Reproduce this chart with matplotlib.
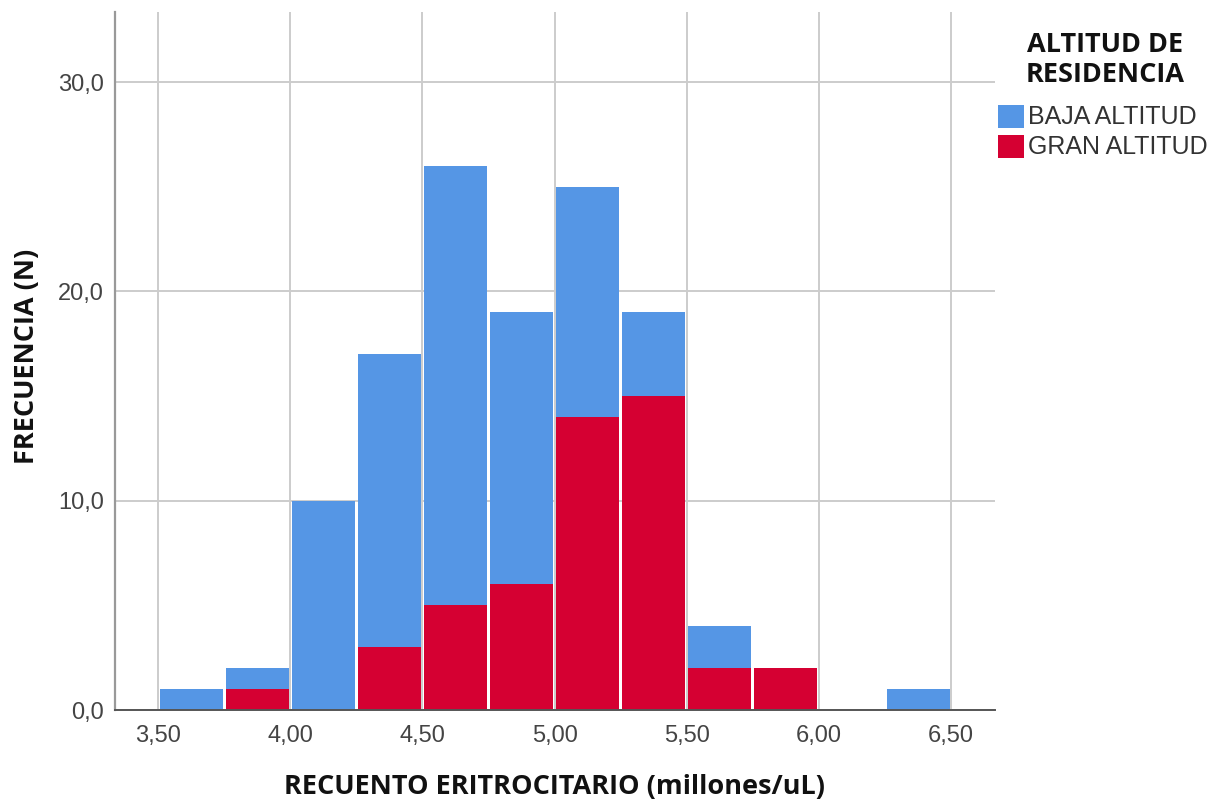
import numpy as np
import matplotlib
matplotlib.use("Agg")
import matplotlib.pyplot as plt
from matplotlib.patches import Rectangle

# Histogram bins (left edges, width 0.25 million/uL)
bin_left = [3.50, 3.75, 4.00, 4.25, 4.50, 4.75, 5.00, 5.25, 5.50, 5.75, 6.00, 6.25]
bin_width = 0.25
gran_altitud = [0, 1, 0, 3, 5, 6, 14, 15, 2, 2, 0, 0]
baja_altitud = [1, 1, 10, 14, 21, 13, 11, 4, 2, 0, 0, 1]

x_ticks = [3.50, 4.00, 4.50, 5.00, 5.50, 6.00, 6.50]
x_ticklabels = ["3,50", "4,00", "4,50", "5,00", "5,50", "6,00", "6,50"]
y_ticks = [0, 10, 20, 30]
y_ticklabels = ["0,0", "10,0", "20,0", "30,0"]

legend_title = ["ALTITUD DE", "RESIDENCIA"]
series_labels = ["BAJA ALTITUD", "GRAN ALTITUD"]
color_baja = "#5596E5"
color_gran = "#D50032"

W, H = 1220, 805
fig = plt.figure(figsize=(W / 100, H / 100), dpi=100)
ax = fig.add_axes([115 / W, 95 / H, 880 / W, 698 / H])

gap = 0.012
lefts = np.array(bin_left) + gap / 2
w = bin_width - gap
gran = np.array(gran_altitud)
baja = np.array(baja_altitud)

ax.bar(lefts, gran, width=w, align="edge", color=color_gran, linewidth=0, zorder=3)
ax.bar(lefts, baja, width=w, bottom=gran, align="edge", color=color_baja,
       linewidth=0, zorder=3)

ax.set_xlim(3.337, 6.666)
ax.set_ylim(0, 33.35)

ax.set_xticks(x_ticks)
ax.set_xticklabels(x_ticklabels)
ax.set_yticks(y_ticks)
ax.set_yticklabels(y_ticklabels)

ax.grid(True, color="#CCCCCC", linewidth=1.4, zorder=0)
ax.set_axisbelow(True)

for lab in ax.get_xticklabels() + ax.get_yticklabels():
    lab.set_fontfamily("Liberation Sans")
    lab.set_fontsize(17)
    lab.set_color("#444444")
ax.tick_params(axis="both", length=0)
ax.tick_params(axis="x", pad=11)
ax.tick_params(axis="y", pad=8)

for side in ["top", "right"]:
    ax.spines[side].set_visible(False)
ax.spines["left"].set_color("#999999")
ax.spines["left"].set_linewidth(1.6)
ax.spines["bottom"].set_color("#555555")
ax.spines["bottom"].set_linewidth(1.4)
ax.spines["bottom"].set_zorder(4)

# Axis titles
label_style = dict(fontfamily="Open Sans", fontweight="bold", fontsize=19.5,
                   color="#111111")
fig.text(555 / W, 1 - 787 / H, "RECUENTO ERITROCITARIO (millones/uL)",
         ha="center", va="center", **label_style)
fig.text(27 / W, 1 - 356 / H, "FRECUENCIA (N)", rotation=90,
         ha="center", va="center", **label_style)

# Legend
for i, line in enumerate(legend_title):
    fig.text(1105 / W, 1 - (45 + 30 * i) / H, line, ha="center", va="center",
             fontfamily="Open Sans", fontweight="bold", fontsize=19.5,
             color="#111111")
for i, (lab, col) in enumerate(zip(series_labels, [color_baja, color_gran])):
    top = 105 + 30 * i
    fig.patches.append(Rectangle((998 / W, 1 - (top + 23) / H), 26 / W, 23 / H,
                                 transform=fig.transFigure, facecolor=col,
                                 edgecolor="none"))
    fig.text(1028 / W, 1 - (top + 12) / H, lab, ha="left", va="center",
             fontfamily="Liberation Sans", fontsize=18, color="#333333")

fig.savefig("out.png", dpi=100)
